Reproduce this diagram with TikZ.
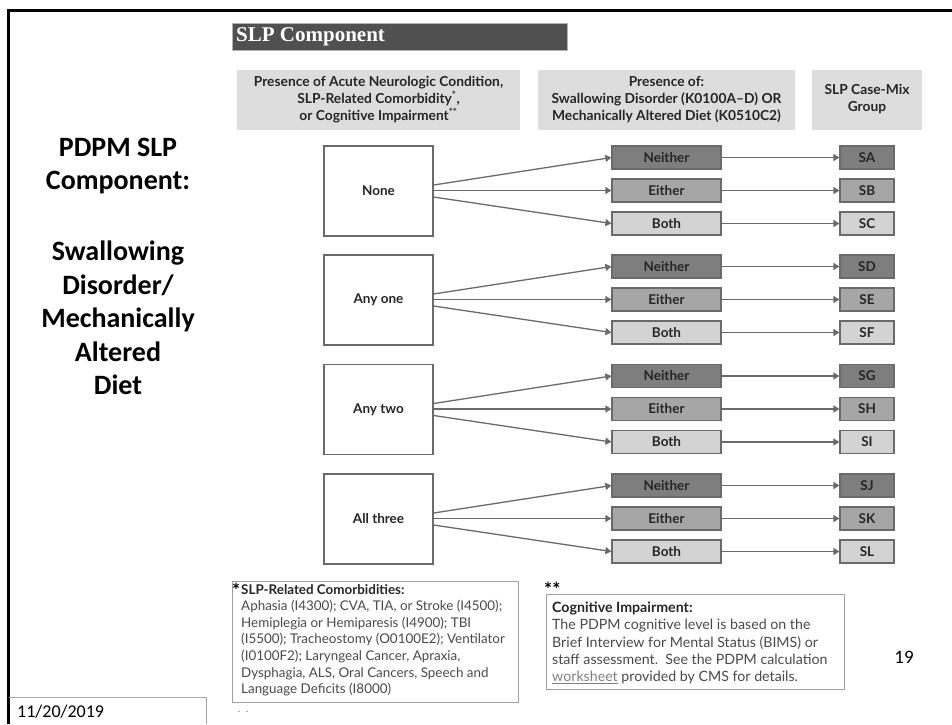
\documentclass[tikz,border=0pt]{standalone}
\usepackage{fontspec}
\setmainfont{Lato}
\newfontfamily\carl{Carlito}
\newfontfamily\slab{Liberation Serif}
\usetikzlibrary{arrows.meta}
\definecolor{neithergray}{HTML}{7E7E7E}
\definecolor{eithergray}{HTML}{A6A6A6}
\definecolor{bothgray}{HTML}{D3D3D3}
\definecolor{edgegray}{HTML}{6A6A6A}
\definecolor{headgray}{HTML}{DDDDDD}
\definecolor{bargray}{HTML}{505050}
\definecolor{inkgray}{HTML}{262626}
\definecolor{notegray}{HTML}{4A4A4A}
\definecolor{boxline}{HTML}{A0A0A0}
\begin{document}
\begin{tikzpicture}[x=1pt,y=-1pt,
  colhead/.style={fill=headgray, draw=none, align=center, inner sep=0pt,
    font=\bfseries\fontsize{13.8}{17}\selectfont, text=inkgray},
  groupbox/.style={draw=edgegray, line width=1.3pt, fill=white,
    minimum width=109pt, minimum height=90pt,
    font=\bfseries\fontsize{13.5}{16}\selectfont, text=inkgray},
  rowbox/.style={draw=edgegray, line width=1.2pt, inner sep=0pt,
    minimum width=109pt, minimum height=23pt,
    font=\bfseries\fontsize{13.5}{16}\selectfont, text=inkgray},
  resbox/.style={rowbox, minimum width=54pt},
  link/.style={draw=edgegray, line width=1.3pt, -{Triangle[length=6pt,width=7pt]}},
  notebox/.style={draw=boxline, line width=0.9pt},
  notetext/.style={anchor=north west, align=left, inner sep=0pt, text=notegray},
  star/.style={font=\bfseries\fontsize{19}{19}\selectfont, text=black, inner sep=0pt},
  titletext/.style={align=center, font=\carl\bfseries\fontsize{28}{33.6}\selectfont}
]
\useasboundingbox (0,0) rectangle (952,724);
\fill[white] (0,0) rectangle (952,724);

% slide frame and date box
\draw[line width=2.6pt] (8.7,724) -- (8.7,10.7) -- (952,10.7);
\draw[gray!70, line width=0.8pt] (8.7,697) -- (206,697) -- (206,724);
\node[anchor=west, inner sep=0pt, font=\carl\fontsize{18}{18}\selectfont] (date) at (17,712) {11/20/2019};
\node[font=\carl\fontsize{19}{19}\selectfont, inner sep=0pt] (pageno) at (904,657) {19};

% slide title
\node[titletext] (title1) at (118,166) {PDPM SLP\\Component:};
\node[titletext] (title2) at (118,318) {Swallowing\\Disorder/\\Mechanically\\Altered\\Diet};

% header bar
\node[fill=bargray, draw=gray!60, minimum width=335pt, minimum height=27pt, inner sep=0pt] (bar) at (399.5,36.5) {};
\node[anchor=west, inner sep=0pt, text=white, font=\slab\bfseries\fontsize{21}{21}\selectfont] (bartext) at (236,37) {SLP Component};

% column headers
\node[colhead, minimum width=283pt, minimum height=60pt] (h1) at (378.5,99.5)
  {Presence of Acute Neurologic Condition,\\SLP-Related Comorbidity\textsuperscript{*},\\or Cognitive Impairment\textsuperscript{**}};
\node[colhead, minimum width=257pt, minimum height=60pt] (h2) at (666.5,99.5)
  {Presence of:\\Swallowing Disorder (K0100A–D) OR\\Mechanically Altered Diet (K0510C2)};
\node[colhead, minimum width=110pt, minimum height=60pt] (h3) at (867,99.5)
  {SLP Case-Mix\\Group};

% the four groups
\foreach \g/\yc/\lab/\ra/\rb/\rc in {1/191/None/SA/SB/SC, 2/300/Any one/SD/SE/SF,
    3/409.5/Any two/SG/SH/SI, 4/519/All three/SJ/SK/SL}{
  \node[groupbox] (g\g) at (378.5,\yc) {\lab};
  \node[rowbox, fill=neithergray] (n\g) at (666.5,{\yc-33.5}) {Neither};
  \node[rowbox, fill=eithergray] (e\g) at (666.5,{\yc-0.5}) {Either};
  \node[rowbox, fill=bothgray] (b\g) at (666.5,{\yc+32.5}) {Both};
  \node[resbox, fill=neithergray] (ra\g) at (867,{\yc-33.5}) {\ra};
  \node[resbox, fill=eithergray] (rb\g) at (867,{\yc-0.5}) {\rb};
  \node[resbox, fill=bothgray] (rc\g) at (867,{\yc+32.5}) {\rc};
  \draw[link] ([yshift=6pt]g\g.east) -- (n\g.west);
  \draw[link] (g\g.east |- e\g.west) -- (e\g.west);
  \draw[link] ([yshift=-6pt]g\g.east) -- (b\g.west);
  \draw[link] (n\g.east) -- (ra\g.west);
  \draw[link] (e\g.east) -- (rb\g.west);
  \draw[link] (b\g.east) -- (rc\g.west);
}

% footnote boxes
\draw[notebox] (232,581) rectangle (518,702);
\node[star, anchor=base east] (star1) at (240.5,597) {*};
\node[notetext, font=\fontsize{13.4}{16.6}\selectfont] (note1) at (241,584)
  {{\bfseries\color{inkgray}SLP-Related Comorbidities:}\\
   Aphasia (I4300); CVA, TIA, or Stroke (I4500);\\
   Hemiplegia or Hemiparesis (I4900); TBI\\
   (I5500); Tracheostomy (O0100E2); Ventilator\\
   (I0100F2); Laryngeal Cancer, Apraxia,\\
   Dysphagia, ALS, Oral Cancers, Speech and\\
   Language Deficits (I8000)};
\node[font=\fontsize{9}{9}\selectfont, text=gray, inner sep=0pt] (dashes) at (243,713) {-\,\,\,-};

\draw[notebox] (546,594) rectangle (844,689);
\node[star, anchor=base west] (star2) at (544,596.5) {**};
\node[notetext, font=\fontsize{14.2}{17.4}\selectfont] (note2) at (552,601.5)
  {{\bfseries\color{inkgray}Cognitive Impairment:}\\
   The PDPM cognitive level is based on the\\
   Brief Interview for Mental Status (BIMS) or\\
   staff assessment.\ \ See the PDPM calculation\\
   {\color{gray}\underline{worksheet}} provided by CMS for details.};
\end{tikzpicture}
\end{document}
